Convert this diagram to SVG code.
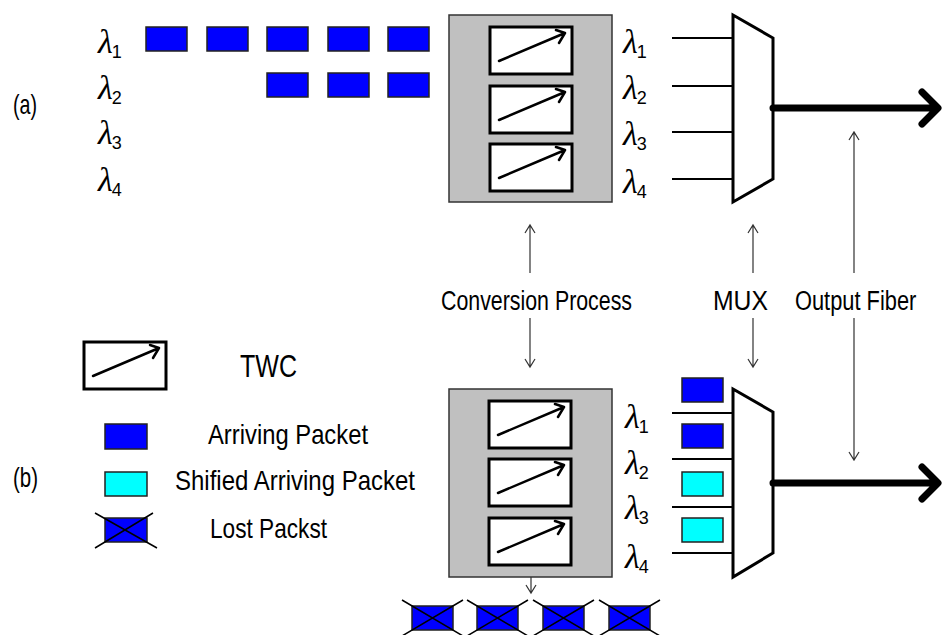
<svg xmlns="http://www.w3.org/2000/svg" xmlns:xlink="http://www.w3.org/1999/xlink" width="943" height="635" viewBox="0 0 943 635">
<style>
.lbl{font-family:"Liberation Sans",Arial,sans-serif;fill:#000}
.lam{font-family:"Liberation Serif","Times New Roman",serif;font-style:italic;font-size:34px;fill:#000}
.sub{font-family:"Liberation Sans",Arial,sans-serif;font-style:normal;font-size:18px}
.pk{fill:#0000FF;stroke:#222;stroke-width:1.5}
.pc{fill:#00FFFF;stroke:#222;stroke-width:1.5}
.gray{fill:#C0C0C0;stroke:#333;stroke-width:1.5}
.mux{fill:#fff;stroke:#000;stroke-width:3;stroke-linejoin:miter}
.wl{stroke:#000;stroke-width:2;fill:none}
.thin{stroke:#333;stroke-width:1.2;fill:none}
.thick{stroke:#000;stroke-width:7;fill:none;stroke-linecap:round;stroke-linejoin:round}
.x{stroke:#000;stroke-width:1.5}
</style>
<defs>
<g id="twc">
<rect x="0" y="0" width="82" height="47" fill="#fff" stroke="#000" stroke-width="3"/>
<path d="M9,34 L75,6 M66,3 L75,6 L69,16" fill="none" stroke="#000" stroke-width="2.5" stroke-linecap="round" stroke-linejoin="round"/>
</g>
<g id="lost">
<rect x="0" y="0" width="41" height="24" class="pk"/>
<path d="M-10,-6 L51,30 M51,-6 L-10,30" class="x"/>
</g>
</defs>

<g id="label-a"><text class="lbl" x="13" y="114" font-size="28" textLength="24" lengthAdjust="spacingAndGlyphs">(a)</text></g>
<g id="label-b"><text class="lbl" x="13" y="487" font-size="28" textLength="25" lengthAdjust="spacingAndGlyphs">(b)</text></g>

<g id="input-wavelengths-a">
<text class="lam" x="98" y="53">λ<tspan class="sub" dx="-1" dy="5">1</tspan></text>
<text class="lam" x="98" y="99">λ<tspan class="sub" dx="-1" dy="5">2</tspan></text>
<text class="lam" x="98" y="144">λ<tspan class="sub" dx="-1" dy="5">3</tspan></text>
<text class="lam" x="98" y="191">λ<tspan class="sub" dx="-1" dy="5">4</tspan></text>
</g>

<g id="arriving-packets-a">
<rect class="pk" x="146" y="27" width="41" height="24"/>
<rect class="pk" x="207" y="27" width="41" height="24"/>
<rect class="pk" x="267" y="27" width="41" height="24"/>
<rect class="pk" x="328" y="27" width="41" height="24"/>
<rect class="pk" x="388" y="27" width="41" height="24"/>
<rect class="pk" x="267" y="73" width="41" height="24"/>
<rect class="pk" x="328" y="73" width="41" height="24"/>
<rect class="pk" x="388" y="73" width="41" height="24"/>
</g>

<g id="conversion-a">
<rect class="gray" x="449" y="15" width="163" height="187"/>
<use xlink:href="#twc" x="490" y="27"/>
<use xlink:href="#twc" x="490" y="86"/>
<use xlink:href="#twc" x="490" y="144"/>
</g>

<g id="output-wavelengths-a">
<text class="lam" x="623" y="53">λ<tspan class="sub" dx="-1" dy="5">1</tspan></text>
<text class="lam" x="623" y="99">λ<tspan class="sub" dx="-1" dy="5">2</tspan></text>
<text class="lam" x="623" y="145">λ<tspan class="sub" dx="-1" dy="5">3</tspan></text>
<text class="lam" x="623" y="193">λ<tspan class="sub" dx="-1" dy="5">4</tspan></text>
</g>

<g id="mux-a">
<polygon class="mux" points="733,15 773,38 773,179 733,202"/>
</g>

<g id="conversion-b">
<rect class="gray" x="449" y="389" width="163" height="188"/>
<use xlink:href="#twc" x="489" y="401"/>
<use xlink:href="#twc" x="489" y="459"/>
<use xlink:href="#twc" x="489" y="518"/>
</g>

<g id="output-wavelengths-b">
<text class="lam" x="625" y="428">λ<tspan class="sub" dx="-1" dy="5">1</tspan></text>
<text class="lam" x="625" y="474">λ<tspan class="sub" dx="-1" dy="5">2</tspan></text>
<text class="lam" x="625" y="519">λ<tspan class="sub" dx="-1" dy="5">3</tspan></text>
<text class="lam" x="625" y="568">λ<tspan class="sub" dx="-1" dy="5">4</tspan></text>
</g>

<g id="mux-b">
<polygon class="mux" points="733,389 773,412 773,553 733,577"/>
</g>

<g id="output-packets-b">
<rect class="pk" x="682" y="378" width="41" height="24"/>
<rect class="pk" x="682" y="424" width="41" height="24"/>
<rect class="pc" x="682" y="472" width="41" height="24"/>
<rect class="pc" x="682" y="518" width="41" height="24"/>
</g>

<g id="lost-packets-b">
<use xlink:href="#lost" x="412" y="606"/>
<use xlink:href="#lost" x="477" y="606"/>
<use xlink:href="#lost" x="543" y="606"/>
<use xlink:href="#lost" x="609" y="606"/>
</g>

<g id="legend">
<use xlink:href="#twc" x="84" y="342"/>
<text class="lbl" x="240" y="377" font-size="32" textLength="57" lengthAdjust="spacingAndGlyphs">TWC</text>
<rect class="pk" x="105" y="424" width="42" height="25"/>
<text class="lbl" x="208" y="444" font-size="28" textLength="160" lengthAdjust="spacingAndGlyphs">Arriving Packet</text>
<rect class="pc" x="105" y="472" width="42" height="24"/>
<text class="lbl" x="175" y="490" font-size="28" textLength="240" lengthAdjust="spacingAndGlyphs">Shified Arriving Packet</text>
<rect class="pk" x="105" y="518" width="42" height="24"/>
<path class="x" d="M95,513 L157,548 M153,513 L95,548"/>
<text class="lbl" x="210" y="538" font-size="28" textLength="117" lengthAdjust="spacingAndGlyphs">Lost Packst</text>
</g>

<g id="annotations">
<text class="lbl" x="441" y="310" font-size="28" textLength="191" lengthAdjust="spacingAndGlyphs">Conversion Process</text>
<text class="lbl" x="713" y="310" font-size="28" textLength="55" lengthAdjust="spacingAndGlyphs">MUX</text>
<text class="lbl" transform="translate(795,310) scale(0.78,1)" x="0" y="0" font-size="28">Output Fiber</text>
</g>

<g id="connectors">
<path class="wl" d="M672,38 H733 M672,86 H733 M672,132 H733 M672,179 H733"/>
<path class="wl" d="M672,413 H733 M672,459 H733 M672,507 H733 M672,553 H733"/>
<path class="thick" d="M773,108 H936 M922,92 L938,108 L922,124"/>
<path class="thick" d="M773,483 H936 M922,467 L938,483 L922,499"/>
<path class="thin" d="M530,273 V225 M525,233 L530,225 L535,233"/>
<path class="thin" d="M530,318 V367 M525,359 L530,367 L535,359"/>
<path class="thin" d="M753,273 V225 M748,233 L753,225 L758,233"/>
<path class="thin" d="M753,318 V367 M748,359 L753,367 L758,359"/>
<path class="thin" d="M854,273 V132 M849,140 L854,132 L859,140"/>
<path class="thin" d="M854,318 V460 M849,452 L854,460 L859,452"/>
<path class="thin" d="M531,577 V593 M526,585 L531,593 L536,585"/>
</g>
</svg>
